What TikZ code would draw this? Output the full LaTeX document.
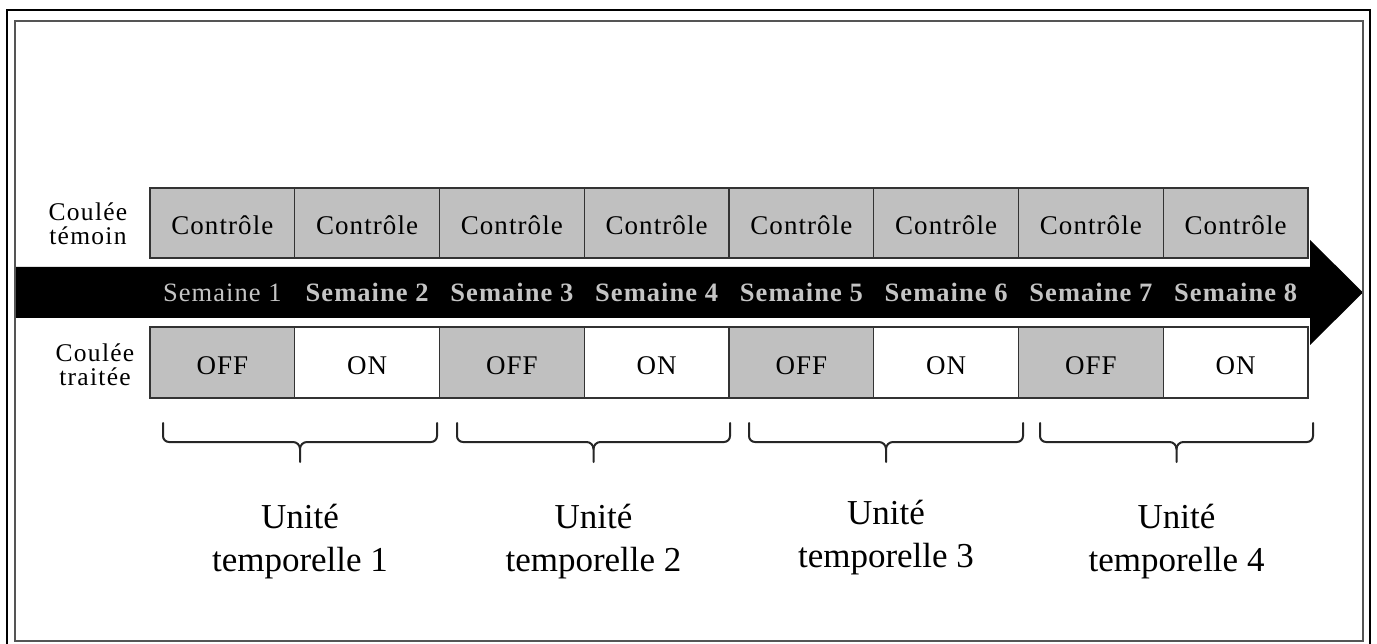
\documentclass[tikz,border=0pt]{standalone}
\usepackage{fontspec}
\usetikzlibrary{calc}
\setmainfont{Liberation Serif}
\newfontfamily\spacedfont{Liberation Serif}[LetterSpace=4]
\newfontfamily\labelfont{Liberation Serif}[LetterSpace=5]
\definecolor{cellgray}{HTML}{C0C0C0}
\definecolor{weekgray}{HTML}{C4C4C4}
\definecolor{framegray}{HTML}{555555}
\definecolor{linedark}{HTML}{333333}
\begin{document}
\begin{tikzpicture}[x=1pt,y=-1pt,
  cellbox/.style={draw=linedark, line width=1.4pt, minimum width=144.75pt, inner sep=0pt,
    text height=24pt, text depth=0pt, font=\spacedfont\fontsize{27}{29}\selectfont},
  topcell/.style={cellbox, fill=cellgray, minimum height=70pt},
  offcell/.style={cellbox, fill=cellgray, minimum height=71pt},
  oncell/.style={cellbox, fill=white, minimum height=71pt},
  weeklabel/.style={anchor=base, inner sep=0pt, text=weekgray, font=\spacedfont\fontsize{26.5}{28}\selectfont},
  rowlabel/.style={anchor=base, inner sep=0pt, font=\labelfont\fontsize{25.5}{25}\selectfont},
  unitlabel/.style={anchor=base, inner sep=0pt, font=\fontsize{35}{42}\selectfont},
  bracestyle/.style={draw=black!85, line width=2pt, line cap=round, line join=round}
]
\useasboundingbox (0,0) rectangle (1377,644);
\fill[white] (0,0) rectangle (1377,644);
% outer frame (clipped at the bottom)
\begin{scope}
  \clip (0,0) rectangle (1377,644);
  \draw[black, line width=2.5pt] (7,10) rectangle (1370,660);
\end{scope}
% time arrow
\fill[black] (15,267) -- (1310,267) -- (1310,240) -- (1363,292.5) -- (1310,345) -- (1310,318) -- (15,318) -- cycle;
% inner frame
\draw[framegray, line width=2pt] (15,21) rectangle (1363,641);
% cells
\foreach \i in {1,...,8} {
  \pgfmathsetmacro{\xc}{150+(\i-0.5)*144.75}
  \node[topcell] (t\i) at (\xc,223) {Contrôle};
  \ifodd\i
    \node[offcell] (b\i) at (\xc,362.5) {OFF};
  \else
    \node[oncell] (b\i) at (\xc,362.5) {ON};
  \fi
}
% week labels
\node[weeklabel] (s1) at (t1.center |- 0,302) {Semaine 1};
\foreach \i in {2,...,8} {
  \node[weeklabel, font=\spacedfont\bfseries\fontsize{26.5}{28}\selectfont] (s\i) at (t\i.center |- 0,302) {Semaine \i};
}
% row labels
\node[rowlabel] (ct1) at (88,221) {Coulée};
\node[rowlabel] (ct2) at (88,245) {témoin};
\node[rowlabel] (cx1) at (95,362) {Coulée};
\node[rowlabel] (cx2) at (95,385) {traitée};
% braces and unit labels
\foreach \a/\b/\n/\dy in {163/437/1/0, 457/730/2/0, 749/1023/3/-4, 1040/1313/4/0} {
  \pgfmathsetmacro{\xm}{(\a+\b)/2}
  \coordinate (tip\n) at (\xm,462);
  \draw[bracestyle] (\a,423) -- (\a,436) to[out=-90,in=180] ({\a+6},442) -- ({\xm-7},442)
    to[out=0,in=90] (\xm,449) -- (tip\n);
  \draw[bracestyle] (\b,423) -- (\b,436) to[out=-90,in=0] ({\b-6},442) -- ({\xm+7},442)
    to[out=180,in=90] (\xm,449);
  \node[unitlabel] (ua\n) at ($(tip\n)+(0,66+\dy)$) {Unité};
  \node[unitlabel] (ub\n) at ($(tip\n)+(0,109+\dy)$) {temporelle \n};
}
\end{tikzpicture}
\end{document}
